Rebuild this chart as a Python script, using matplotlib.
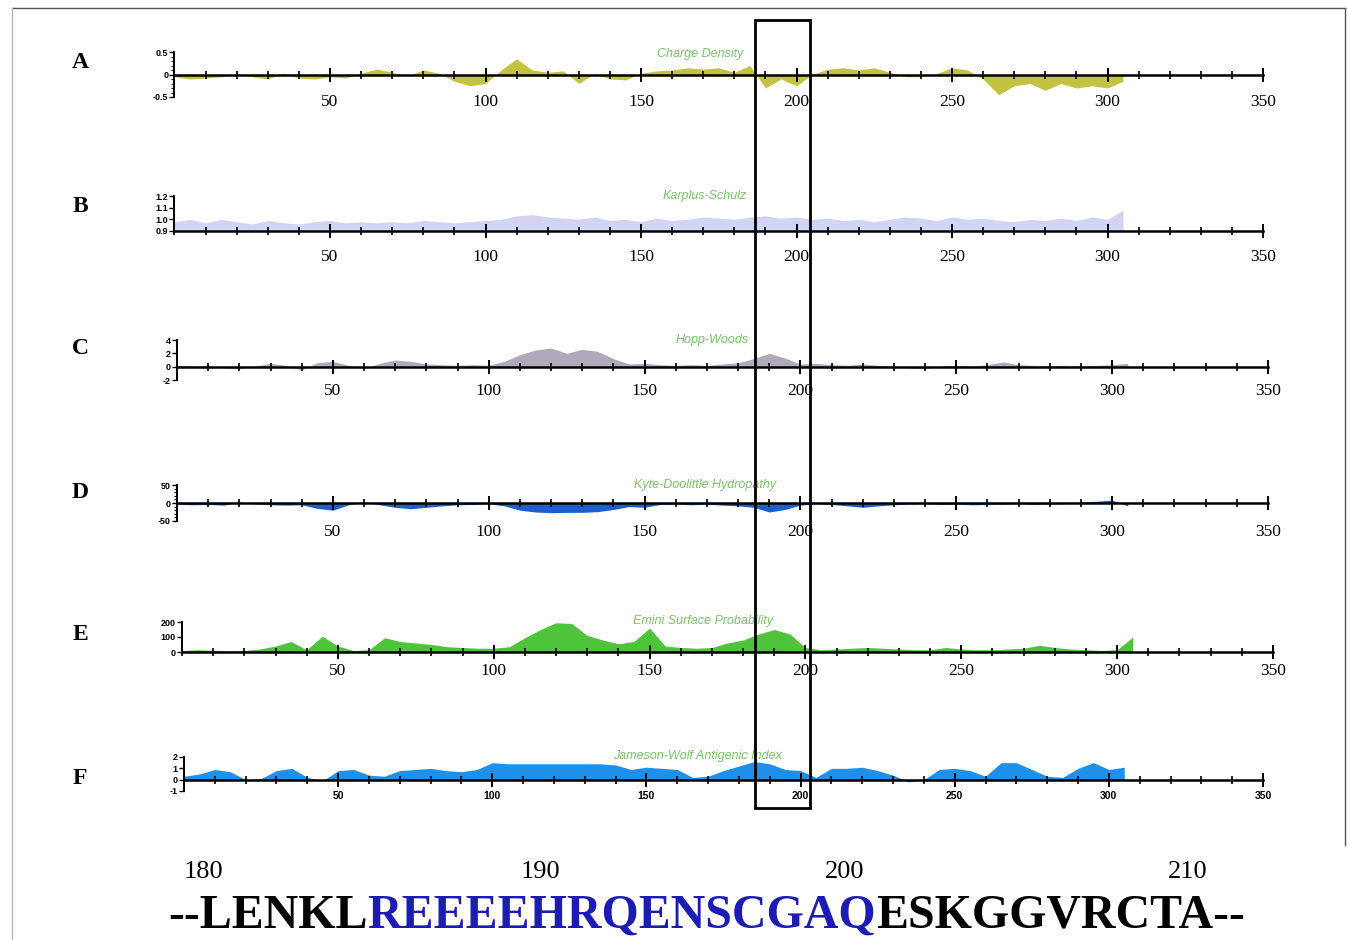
import matplotlib
matplotlib.use("Agg")
import matplotlib.pyplot as plt
from matplotlib.lines import Line2D
from matplotlib.patches import Rectangle
from matplotlib.ticker import MultipleLocator, FixedLocator

W, H = 1348, 940

# ---------------- data ----------------
positions = list(range(0, 310, 5))

charge_density = [
    -0.05, -0.10, -0.08, -0.05, 0.02, -0.05, -0.10, 0.03, -0.08, -0.10,
    -0.05, -0.08, 0.03, 0.12, 0.05, -0.03, 0.10, 0.03, -0.15, -0.25,
    -0.20, 0.10, 0.35, 0.10, 0.05, 0.08, -0.20, 0.02, -0.10, -0.12,
    0.03, 0.08, 0.10, 0.15, 0.12, 0.15, 0.05, 0.20, -0.30, -0.10,
    -0.25, 0.00, 0.12, 0.15, 0.10, 0.15, 0.05, -0.05, -0.05, 0.02,
    0.15, 0.10, -0.10, -0.45, -0.25, -0.20, -0.35, -0.20, -0.30, -0.25,
    -0.30, -0.15]

karplus_schulz = [
    0.98, 1.00, 0.97, 1.00, 0.98, 0.96, 0.99, 0.97, 0.96, 0.98,
    0.99, 0.97, 0.98, 0.97, 0.98, 0.97, 0.99, 0.98, 0.97, 0.98,
    0.99, 1.00, 1.03, 1.04, 1.02, 1.01, 1.00, 1.02, 0.99, 1.00,
    0.98, 1.01, 0.99, 1.00, 1.02, 1.01, 1.00, 1.02, 1.03, 1.01,
    1.02, 1.00, 1.01, 0.99, 1.00, 0.98, 1.00, 1.02, 1.01, 0.99,
    1.02, 1.00, 1.01, 0.99, 0.98, 1.00, 0.99, 1.01, 0.99, 1.02,
    1.00, 1.08]

hopp_woods = [
    0.2, 0.1, 0.2, -0.2, -0.3, 0.1, 0.5, 0.2, -0.5, 0.6,
    0.8, 0.2, -0.3, 0.5, 1.0, 0.8, 0.4, 0.3, 0.2, 0.3,
    0.2, 0.8, 1.8, 2.5, 2.8, 2.0, 2.6, 2.3, 1.2, 0.4,
    0.5, 0.3, 0.2, 0.3, 0.2, 0.4, 0.6, 1.2, 2.0, 1.3,
    0.4, 0.5, 0.3, 0.2, 0.4, 0.2, 0.1, -0.2, -0.3, 0.1,
    0.2, 0.1, 0.3, 0.7, 0.3, 0.2, 0.1, 0.2, 0.1, 0.2,
    0.3, 0.5]

kyte_doolittle = [
    -3, -5, -4, -6, 3, -2, -5, -6, -5, -15,
    -20, -5, 4, -5, -12, -16, -12, -8, -5, -4,
    -2, -8, -20, -25, -27, -26, -26, -24, -18, -10,
    -12, -4, -3, -5, -3, -6, -8, -12, -25, -18,
    -6, -2, -4, -8, -12, -8, -5, -3, -2, -4,
    -3, -5, -4, -3, -2, -4, -3, -2, 3, 5,
    8, -8]

emini = [
    10, 15, 12, 8, 10, 20, 40, 70, 15, 105,
    40, 10, 15, 95, 70, 60, 50, 35, 30, 25,
    25, 35, 95, 150, 195, 190, 110, 80, 55, 70,
    160, 40, 30, 25, 30, 60, 80, 120, 150, 120,
    30, 15, 20, 25, 30, 25, 20, 15, 15, 30,
    20, 15, 15, 20, 25, 45, 30, 20, 15, 10,
    15, 100]

jameson_wolf = [
    0.3, 0.5, 0.9, 0.7, 0.0, 0.1, 0.8, 1.0, 0.2, -0.1,
    0.8, 0.9, 0.4, 0.3, 0.8, 0.9, 1.0, 0.8, 0.7, 0.9,
    1.5, 1.4, 1.4, 1.4, 1.4, 1.4, 1.4, 1.4, 1.3, 0.9,
    1.1, 1.0, 0.9, 0.2, 0.3, 0.8, 1.2, 1.6, 1.4, 0.9,
    0.8, 0.2, 1.0, 1.0, 1.1, 0.8, 0.4, -0.2, 0.0, 0.9,
    1.0, 0.8, 0.3, 1.5, 1.5, 0.9, 0.3, 0.2, 1.0, 1.5,
    0.9, 1.1]

panel_letters = ["A", "B", "C", "D", "E", "F"]
panel_titles = ["Charge Density", "Karplus-Schulz", "Hopp-Woods",
                "Kyte-Doolittle Hydropathy", "Emini Surface Probability",
                "Jameson-Wolf Antigenic Index"]
x_tick_labels = [50, 100, 150, 200, 250, 300, 350]

seq_numbers = ["180", "190", "200", "210"]
seq_left = "--LENKL"
seq_mid = "REEEEHRQENSCGAQ"
seq_right = "ESKGGVRCTA--"

# ---------------- layout / style ----------------
panels = [
    dict(data=charge_density, x0=174.5, x1=1263, yt=52, yb=97, ylim=(-0.5, 0.5), base=0.0,
         color="#bdbd2c", alpha=0.9, yticks=[-0.5, 0, 0.5], ylabels=["-0.5", "0", "0.5"], yminor=0.1,
         pad=9, title_xy=(700, 54), letter_y=63),
    dict(data=karplus_schulz, x0=174.5, x1=1263, yt=196, yb=231, ylim=(0.9, 1.2), base=0.9,
         color="#c9c9f0", alpha=0.8, yticks=[0.9, 1.0, 1.1, 1.2], ylabels=["0.9", "1.0", "1.1", "1.2"], yminor=None,
         pad=8, title_xy=(705, 196), letter_y=206),
    dict(data=hopp_woods, x0=177, x1=1268, yt=340, yb=380, ylim=(-2, 4), base=0.0,
         color="#a7a0b2", alpha=0.9, yticks=[-2, 0, 2, 4], ylabels=["-2", "0", "2", "4"], yminor=None,
         pad=7, title_xy=(712, 340), letter_y=348),
    dict(data=kyte_doolittle, x0=177, x1=1268, yt=485, yb=521, ylim=(-50, 50), base=0.0,
         color="#1f5fcc", alpha=1.0, yticks=[-50, 0, 50], ylabels=["-50", "0", "50"], yminor=10,
         pad=10, title_xy=(705, 485), letter_y=492),
    dict(data=emini, x0=182, x1=1273, yt=622, yb=652, ylim=(0, 200), base=0.0,
         color="#4dc43a", alpha=1.0, yticks=[0, 100, 200], ylabels=["0", "100", "200"], yminor=None,
         pad=3, title_xy=(703, 621), letter_y=635),
    dict(data=jameson_wolf, x0=184, x1=1263, yt=757, yb=791, ylim=(-1, 2), base=0.0,
         color="#1e90ea", alpha=1.0, yticks=[-1, 0, 1, 2], ylabels=["-1", "0", "1", "2"], yminor=None,
         pad=3, title_xy=(697, 756), letter_y=778),
]

fig = plt.figure(figsize=(W / 100, H / 100), dpi=100)
fig.patch.set_facecolor("white")

for i, p in enumerate(panels):
    left = p["x0"] / W
    width = (p["x1"] - p["x0"]) / W
    bottom = 1 - p["yb"] / H
    height = (p["yb"] - p["yt"]) / H
    ax = fig.add_axes([left, bottom, width, height])
    ax.patch.set_alpha(0)
    ax.set_xlim(0, 350)
    ax.set_ylim(*p["ylim"])
    ax.fill_between(positions, p["base"], p["data"], color=p["color"], alpha=p["alpha"], lw=0, zorder=1)

    for s in ["top", "right"]:
        ax.spines[s].set_visible(False)
    ax.spines["bottom"].set_position(("data", p["base"]))
    ax.spines["bottom"].set_linewidth(1.8)
    ax.spines["bottom"].set_zorder(3)
    ax.spines["left"].set_linewidth(1.4)

    ax.xaxis.set_major_locator(FixedLocator(x_tick_labels))
    ax.xaxis.set_minor_locator(MultipleLocator(10))
    ax.set_xticklabels([str(v) for v in x_tick_labels])
    if i < 5:
        xfont = dict(family="Liberation Serif", size=12.5)
    else:
        xfont = dict(family="Liberation Sans", size=7.5, weight="bold")
    for lbl in ax.get_xticklabels():
        lbl.set_fontfamily(xfont["family"])
        lbl.set_fontsize(xfont["size"])
        if "weight" in xfont:
            lbl.set_fontweight(xfont["weight"])
    ax.tick_params(axis="x", which="major", direction="inout", length=10, width=1.4, pad=p["pad"])
    ax.tick_params(axis="x", which="minor", direction="inout", length=6, width=1.2)

    ax.set_yticks(p["yticks"])
    ax.set_yticklabels(p["ylabels"])
    if p["yminor"]:
        ax.yaxis.set_minor_locator(MultipleLocator(p["yminor"]))
        ax.tick_params(axis="y", which="minor", direction="out", length=2.5, width=0.8)
    ax.tick_params(axis="y", which="major", direction="out", length=3.5, width=1.0, pad=1,
                   labelsize=6.5)
    for lbl in ax.get_yticklabels():
        lbl.set_fontfamily("Liberation Sans")
        lbl.set_fontweight("bold")

    fig.text(p["title_xy"][0] / W, 1 - p["title_xy"][1] / H, panel_titles[i],
             ha="center", va="center", fontsize=9, style="italic",
             family="Liberation Sans", color="#78c466")
    fig.text(80 / W, 1 - p["letter_y"] / H, panel_letters[i], ha="center", va="center",
             fontsize=17, weight="bold", family="Liberation Serif", color="black")

# highlight box
fig.patches.append(Rectangle((755 / W, 1 - 808 / H), (810 - 755) / W, (808 - 20) / H,
                             transform=fig.transFigure, fill=False, ec="black", lw=2.0, zorder=10))

# page border lines (scan frame)
fig.lines.append(Line2D([12 / W, 1345 / W], [1 - 8 / H, 1 - 8 / H], transform=fig.transFigure,
                        color="#555555", lw=1.0))
fig.lines.append(Line2D([1345 / W, 1345 / W], [1 - 8 / H, 1 - 845 / H], transform=fig.transFigure,
                        color="#555555", lw=1.0))
fig.lines.append(Line2D([12 / W, 12 / W], [1 - 8 / H, 0], transform=fig.transFigure,
                        color="#bbbbbb", lw=1.0))

# sequence position numbers
num_x = [203, 540, 845, 1188]
for xs, s in zip(num_x, seq_numbers):
    fig.text(xs / W, 1 - 872 / H, s, ha="center", va="center", fontsize=19,
             family="Liberation Serif", color="black")

# sequence with highlighted epitope
fig.canvas.draw()
renderer = fig.canvas.get_renderer()
seq_y = 1 - 916 / H
x = 168 / W
for txt, col in [(seq_left, "black"), (seq_mid, "#1c1cb4"), (seq_right, "black")]:
    t = fig.text(x, seq_y, txt, ha="left", va="center", fontsize=34.5, weight="bold",
                 family="Liberation Serif", color=col)
    bb = t.get_window_extent(renderer=renderer)
    x = x + bb.width / W

fig.savefig("out.png", dpi=100, facecolor="white")
